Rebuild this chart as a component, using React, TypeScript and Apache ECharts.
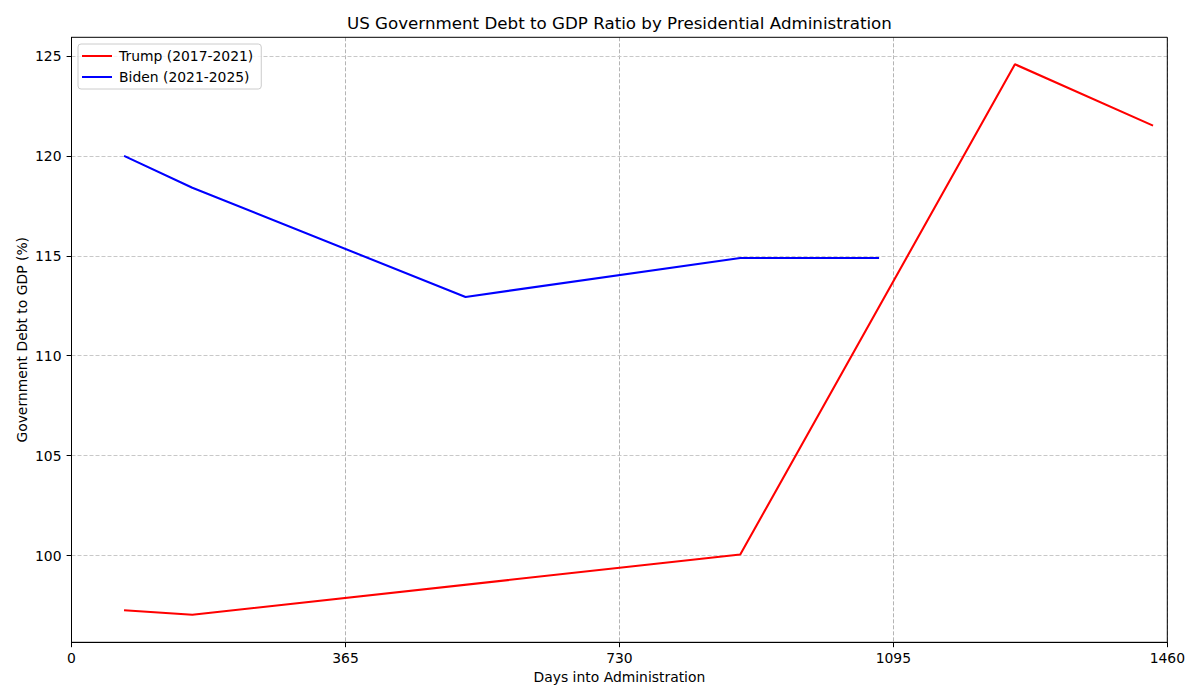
import React, { useEffect, useRef } from "react";
import * as echarts from "echarts";

const trumpDays = [70, 161, 891, 1257, 1441];
const trumpDebt = [97.26, 97.04, 100.05, 124.58, 121.51];
const bidenDays = [70, 161, 525, 891, 1076];
const bidenDebt = [120.0, 118.4, 112.94, 114.89, 114.89];
const yTicks = [100, 105, 110, 115, 120, 125];
const xTicks = [0, 365, 730, 1095, 1460];
const seriesNames = ["Trump (2017-2021)", "Biden (2021-2025)"];
const titleText = "US Government Debt to GDP Ratio by Presidential Administration";
const xLabel = "Days into Administration";
const yLabel = "Government Debt to GDP (%)";

const FONT = "DejaVu Sans";

export default function App() {
  const ref = useRef<HTMLDivElement>(null);
  useEffect(() => {
    if (!ref.current) return;
    const chart = echarts.init(ref.current, undefined, { renderer: "svg" });
    const gl = 71.5, gr = 1167.3, gt = 37.3, gb = 642.3;
    chart.setOption({
      animation: false,
      backgroundColor: "#ffffff",
      textStyle: { fontFamily: FONT },
      grid: {
        left: gl,
        right: 1200 - gr,
        top: gt,
        bottom: 700 - gb,
        show: false,
      },
      legend: {
        left: 78,
        top: 44,
        orient: "vertical",
        data: seriesNames,
        icon: "rect",
        itemWidth: 30,
        itemHeight: 2,
        itemGap: 7,
        padding: [5, 8, 5, 4],
        backgroundColor: "rgba(255,255,255,0.8)",
        borderColor: "#cccccc",
        borderWidth: 1,
        borderRadius: 3,
        textStyle: { fontFamily: FONT, fontSize: 13.9, color: "#000", lineHeight: 14, padding: [0, 0, 0, 2] },
      },
      xAxis: {
        type: "value",
        min: xTicks[0],
        max: xTicks[xTicks.length - 1],
        interval: 365,
        axisLine: { show: true, lineStyle: { color: "#000", width: 1 } },
        axisTick: { show: true, length: 4.9, lineStyle: { color: "#000", width: 1 } },
        axisLabel: { fontFamily: FONT, fontSize: 13.9, color: "#000", margin: 9, formatter: (v: number) => String(v) },
        splitLine: { show: true, lineStyle: { color: "#b4b4b4", width: 1, type: [4, 2] } },
      },
      yAxis: {
        type: "value",
        min: 95.66,
        max: 125.93,
        axisLine: { show: true, lineStyle: { color: "#000", width: 1 } },
        axisTick: { show: true, length: 4.9, customValues: yTicks, lineStyle: { color: "#000", width: 1 } },
        axisLabel: { fontFamily: FONT, fontSize: 13.9, color: "#000", margin: 10, customValues: yTicks, formatter: (v: number) => String(v) },
        splitLine: { show: false },
      },
      graphic: [
        {
          type: "rect",
          z: 100,
          silent: true,
          shape: { x: gl, y: gt, width: gr - gl, height: gb - gt },
          style: { fill: "none", stroke: "#000", lineWidth: 1 },
        },
        {
          type: "text",
          x: (gl + gr) / 2,
          y: 23,
          style: { text: titleText, fontFamily: FONT, fontSize: 16.7, fill: "#000", textAlign: "center", textVerticalAlign: "middle" },
        },
        {
          type: "text",
          x: (gl + gr) / 2,
          y: 677,
          style: { text: xLabel, fontFamily: FONT, fontSize: 13.9, fill: "#000", textAlign: "center", textVerticalAlign: "middle" },
        },
        {
          type: "text",
          x: 22,
          y: (gt + gb) / 2,
          rotation: Math.PI / 2,
          style: { text: yLabel, fontFamily: FONT, fontSize: 13.9, fill: "#000", textAlign: "center", textVerticalAlign: "middle" },
        },
      ],
      series: [
        {
          name: seriesNames[0],
          type: "line",
          data: trumpDays.map((d, i) => [d, trumpDebt[i]]),
          showSymbol: false,
          symbol: "none",
          color: "#ff0000",
          lineStyle: { color: "#ff0000", width: 2.08 },
          z: 3,
          markLine: {
            silent: true,
            symbol: "none",
            label: { show: false },
            animation: false,
            lineStyle: { color: "#c8c8c8", width: 1, type: [4, 2] },
            data: yTicks.map((v) => ({ yAxis: v })),
            z: 1,
          },
        },
        {
          name: seriesNames[1],
          type: "line",
          data: bidenDays.map((d, i) => [d, bidenDebt[i]]),
          showSymbol: false,
          symbol: "none",
          color: "#0000ff",
          lineStyle: { color: "#0000ff", width: 2.08 },
          z: 3,
        },
      ],
    });
    return () => chart.dispose();
  }, []);
  return (
    <div
      ref={ref}
      style={{ position: "fixed", left: 0, top: 0, width: 1200, height: 700, background: "#fff" }}
    />
  );
}
